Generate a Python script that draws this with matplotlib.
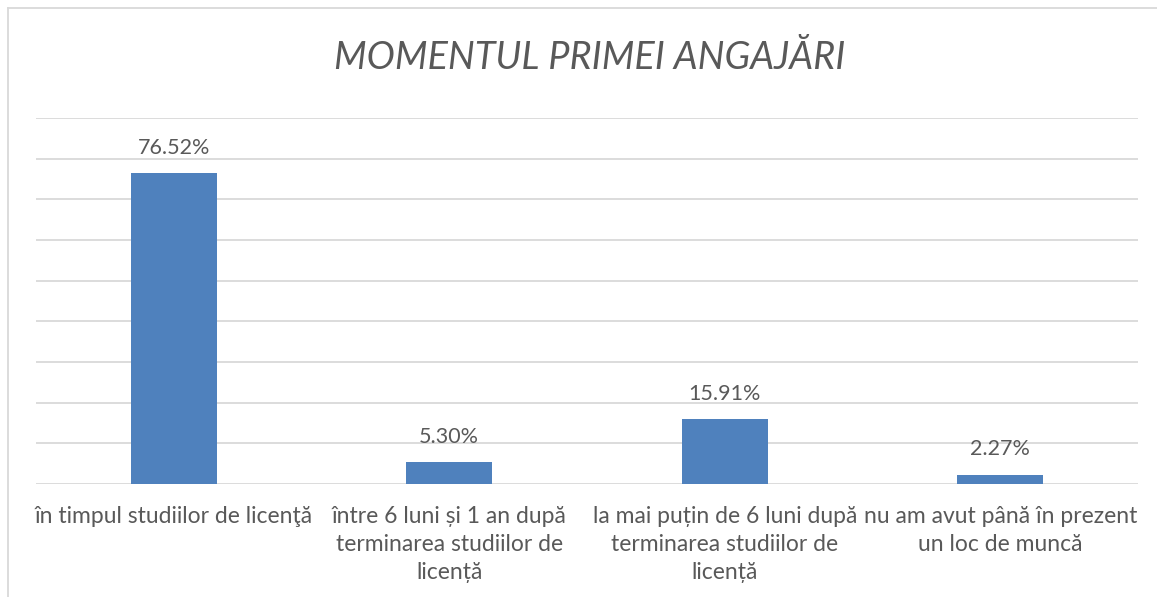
import matplotlib.pyplot as plt
import numpy as np
from matplotlib.lines import Line2D

# date
categorii = [
    "în timpul studiilor de licenţă",
    "între 6 luni și 1 an după\nterminarea studiilor de\nlicență",
    "la mai puțin de 6 luni după\nterminarea studiilor de\nlicență",
    "nu am avut până în prezent\nun loc de muncă",
]
procente = [76.52, 5.30, 15.91, 2.27]
etichete = ["76.52%", "5.30%", "15.91%", "2.27%"]

plt.rcParams['font.family'] = ['Lato', 'DejaVu Sans']
text_color = '#595959'
grid_color = '#D9D9D9'
bar_color = '#4F81BD'

W, H = 1157, 597
fig = plt.figure(figsize=(W / 100, H / 100), dpi=100)
ax = fig.add_axes([36 / W, 1 - 484 / H, (1138 - 36) / W, (484 - 118) / H])

x = np.arange(len(categorii))
ax.bar(x, procente, width=0.312, color=bar_color, zorder=3)
ax.set_xlim(-0.5, len(categorii) - 0.5)
ax.set_ylim(0, 90)

# grila orizontala
ax.set_yticks(np.arange(0, 91, 10))
ax.yaxis.grid(True, color=grid_color, linewidth=1.3)
ax.tick_params(axis='y', left=False, labelleft=False)
for s in ax.spines.values():
    s.set_visible(False)

ax.set_xticks(x)
ax.set_xticklabels(categorii, fontsize=16.5, color=text_color, linespacing=1.42)
ax.tick_params(axis='x', bottom=False, pad=12)

for xi, v, lab in zip(x, procente, etichete):
    ax.annotate(lab, (xi, v), xytext=(0, 11), textcoords='offset points',
                ha='center', va='bottom', fontsize=15.5, color=text_color)

fig.text(590 / W, 1 - 58 / H, "MOMENTUL PRIMEI ANGAJĂRI", ha='center', va='center',
         fontsize=27.3, style='italic', color=text_color)

# chenar
fig.add_artist(Line2D([7.5 / W, 7.5 / W], [0, 1 - 8 / H], color=grid_color, lw=1.3))
fig.add_artist(Line2D([7.5 / W, 1], [1 - 8 / H, 1 - 8 / H], color=grid_color, lw=1.3))

fig.savefig('out.png', dpi=100)
